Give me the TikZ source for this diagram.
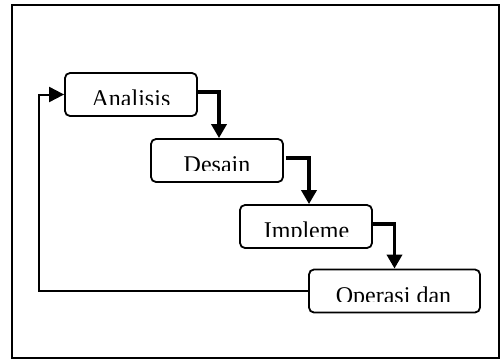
\documentclass[tikz,border=0pt]{standalone}
\usepackage{fontspec}
\setmainfont{Liberation Serif}
\usetikzlibrary{arrows.meta}
\begin{document}
\begin{tikzpicture}[x=1pt,y=-1pt,
  box/.style={draw, line width=1.8pt, rounded corners=5pt, minimum height=43pt, inner sep=0pt},
  flow/.style={line width=3.8pt, -{Triangle[width=15pt,length=14pt]}},
  back/.style={line width=2pt, -{Triangle[width=15pt,length=15pt]}},
  lbl/.style={anchor=base, inner sep=0pt, font=\fontsize{24}{28}\selectfont}]
\useasboundingbox (0,0) rectangle (502,361);
\draw[line width=1.4pt] (12,5) rectangle (499,358);
% boxes
\node[box, minimum width=132pt] (a) at (131,94.5) {};
\node[box, minimum width=132pt] (d) at (217,160.5) {};
\node[box, minimum width=132pt] (i) at (306,226.5) {};
\node[box, minimum width=171pt] (o) at (394.5,291) {};
% clipped labels
\begin{scope}\clip (65,73) rectangle (197,104);
\node[lbl] (at) at (131,106) {Analisis};\end{scope}
\begin{scope}\clip (151,139) rectangle (283,170);
\node[lbl] (dt) at (217,172) {Desain};\end{scope}
\begin{scope}\clip (240,205) rectangle (372,236);
\node[lbl] (it) at (306.5,238) {Impleme};\end{scope}
\begin{scope}\clip (309,270) rectangle (480,301);
\node[lbl] (ot) at (393.5,303) {Operasi dan};\end{scope}
% connectors
\draw[flow] ([yshift=2.5pt]a.east) -| ([xshift=2pt]d.north);
\draw[flow] ([yshift=2.5pt,xshift=2pt]d.east) -| ([xshift=3pt]i.north);
\draw[flow] ([yshift=2.5pt]i.east) -| (o.north);
\coordinate (fb) at (39,0);
\draw[back] (o.west) -| (fb |- a.west) -- (a.west);
\end{tikzpicture}
\end{document}
